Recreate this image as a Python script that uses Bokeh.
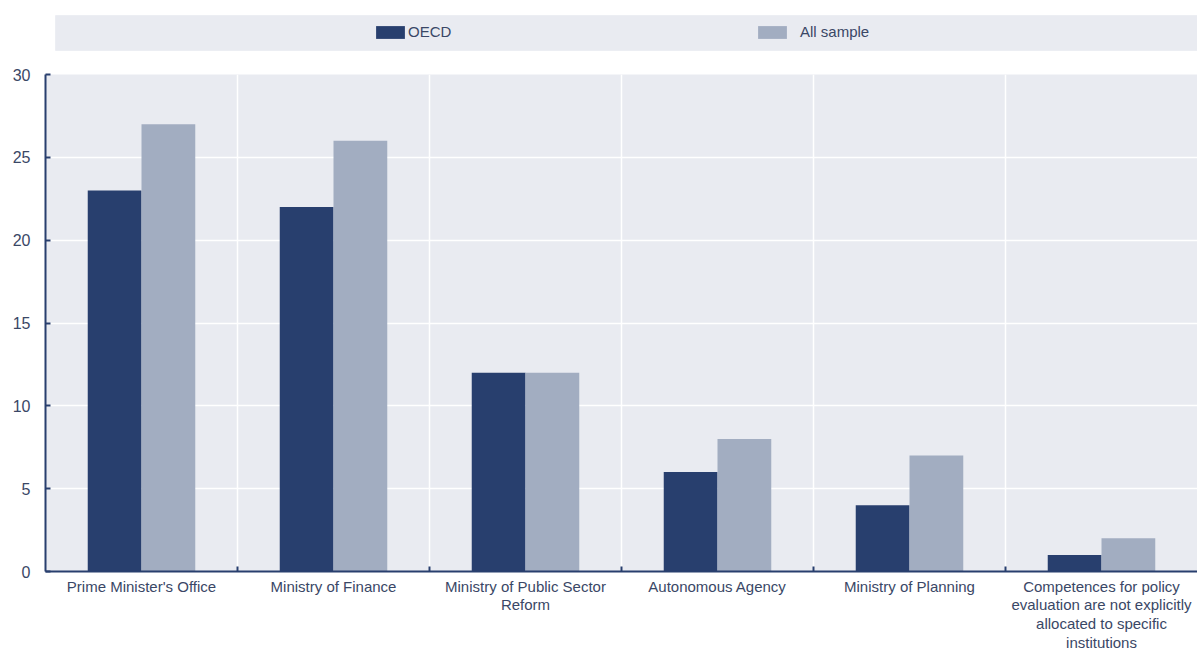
from bokeh.plotting import figure
from bokeh.models import (Range1d, FixedTicker, Legend, LegendItem, ColumnDataSource,
                          BoxAnnotation)
from bokeh.transform import dodge
from bokeh.layouts import column
from bokeh.embed import file_html
from bokeh.resources import INLINE

categories = [
    "Prime Minister's Office",
    "Ministry of Finance",
    "Ministry of Public Sector\nReform",
    "Autonomous Agency",
    "Ministry of Planning",
    "Competences for policy\nevaluation are not explicitly\nallocated to specific\ninstitutions",
]
oecd = [23, 22, 12, 6, 4, 1]
all_sample = [27, 26, 12, 8, 7, 2]
y_ticks = [0, 5, 10, 15, 20, 25, 30]

DARK = "#283F6E"
LIGHT = "#A2ADC1"
BG = "#E9EBF1"
TXT = "#3A4766"
AXIS = "#283F6E"
FONT = "Liberation Sans"

centers = [i + 0.5 for i in range(len(categories))]
bounds = [i for i in range(1, len(categories))]
src = ColumnDataSource(dict(x=centers, oecd=oecd, all=all_sample))

p = figure(frame_width=1152, frame_height=497, output_backend="svg", toolbar_location=None,
           x_range=Range1d(0, len(categories)), y_range=Range1d(0, 30),
           min_border_left=45, min_border_right=0, min_border_top=12,
           min_border_bottom=76, outline_line_color=None,
           background_fill_color=BG, border_fill_color="white")

p.vbar(x=dodge("x", -0.14, range=p.x_range), top="oecd", width=0.28, source=src,
       fill_color=DARK, line_color=None)
p.vbar(x=dodge("x", 0.14, range=p.x_range), top="all", width=0.28, source=src,
       fill_color=LIGHT, line_color=None)

p.xaxis.ticker = FixedTicker(ticks=centers, minor_ticks=bounds)
p.xaxis.major_label_overrides = {c: lab for c, lab in zip(centers, categories)}
p.xaxis.major_tick_line_color = None
p.xaxis.minor_tick_in = 5
p.xaxis.minor_tick_out = 0
p.xaxis.minor_tick_line_color = AXIS
p.xaxis.minor_tick_line_width = 2
p.xaxis.major_label_standoff = 0
p.xaxis.major_label_text_line_height = 1.1
p.xaxis.major_label_text_font_size = "15px"

p.yaxis.ticker = FixedTicker(ticks=y_ticks)
p.yaxis.major_tick_in = 5
p.yaxis.major_tick_out = 0
p.yaxis.minor_tick_line_color = None
p.yaxis.major_tick_line_color = AXIS
p.yaxis.major_tick_line_width = 2
p.yaxis.major_label_standoff = 15
p.yaxis.major_label_text_font_size = "16px"

for ax in (p.xaxis, p.yaxis):
    ax.axis_line_color = AXIS
    ax.axis_line_width = 2
    ax.major_label_text_font = FONT
    ax.major_label_text_color = TXT

p.xgrid.ticker = FixedTicker(ticks=bounds)
p.xgrid.grid_line_color = "white"
p.xgrid.grid_line_width = 1.5
p.ygrid.ticker = FixedTicker(ticks=y_ticks)
p.ygrid.grid_line_color = "white"
p.ygrid.grid_line_width = 1.5

# legend strip: frame mapped 1:1 to pixels (x from 45 to 1197, y 0..62 from bottom)
top = figure(frame_width=1152, frame_height=62, output_backend="svg", toolbar_location=None,
             x_range=Range1d(45, 1197), y_range=Range1d(0, 62),
             min_border_left=45, min_border_right=0, min_border_top=0,
             min_border_bottom=0, outline_line_color=None,
             background_fill_color="white", border_fill_color="white")
top.axis.visible = False
top.grid.visible = False
top.add_layout(BoxAnnotation(left=55, right=1197, bottom=12, top=47,
                             fill_color=BG, fill_alpha=1.0,
                             line_color="#DCDFE7", line_width=1, level="underlay"))
r1 = top.vbar(x="x", top="oecd", width=0.1, source=src, fill_color=DARK,
              line_color=None, visible=False)
r2 = top.vbar(x="x", top="all", width=0.1, source=src, fill_color=LIGHT,
              line_color=None, visible=False)

def mk_legend(label, r, loc, standoff):
    lg = Legend(items=[LegendItem(label=label, renderers=[r])], location=loc,
                orientation="horizontal", glyph_width=36, glyph_height=16,
                label_height=16, label_standoff=standoff, padding=0, margin=0,
                spacing=0, border_line_color=None, background_fill_alpha=0,
                inactive_fill_alpha=0, click_policy="none",
                label_text_font=FONT, label_text_font_size="15px",
                label_text_color=TXT)
    top.add_layout(lg, "center")

mk_legend("OECD", r1, (372 - 45, 22), 0)
mk_legend("All sample", r2, (754 - 45, 22), 10)

layout = column(top, p, spacing=0)
open("out.html", "w").write(file_html(layout, INLINE))
